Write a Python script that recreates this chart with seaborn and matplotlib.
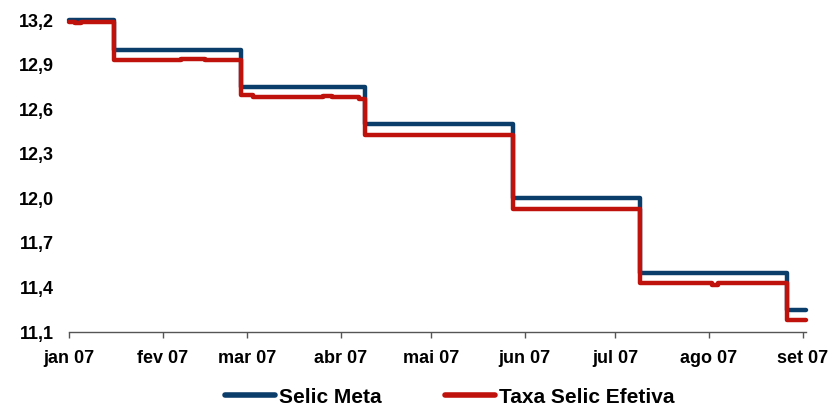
import matplotlib
matplotlib.use("Agg")
import matplotlib.pyplot as plt
from matplotlib.ticker import FuncFormatter
import pandas as pd
import seaborn as sns

# ---- data ----
meta_dates = ["2007-01-01", "2007-01-16", "2007-02-27", "2007-04-09",
              "2007-05-28", "2007-07-09", "2007-08-27", "2007-09-02"]
meta_values = [13.20, 13.00, 12.75, 12.50, 12.00, 11.50, 11.25, 11.25]

efet_dates = ["2007-01-01", "2007-01-03", "2007-01-05", "2007-01-16",
              "2007-02-07", "2007-02-15", "2007-02-27", "2007-03-03",
              "2007-03-26", "2007-03-29", "2007-04-07", "2007-04-09",
              "2007-05-28", "2007-07-09", "2007-08-02", "2007-08-04",
              "2007-08-27", "2007-09-02"]
efet_values = [13.19, 13.18, 13.19, 12.93,
               12.94, 12.93, 12.70, 12.68,
               12.69, 12.68, 12.67, 12.43,
               11.93, 11.43, 11.42, 11.43,
               11.18, 11.18]

month_ticks = ["2007-01-01", "2007-02-01", "2007-03-01", "2007-04-01", "2007-05-01",
               "2007-06-01", "2007-07-01", "2007-08-01", "2007-09-01"]
month_labels = ["jan 07", "fev 07", "mar 07", "abr 07", "mai 07",
                "jun 07", "jul 07", "ago 07", "set 07"]
y_ticks = [11.1, 11.4, 11.7, 12.0, 12.3, 12.6, 12.9, 13.2]

series_names = ["Selic Meta", "Taxa Selic Efetiva"]
colors = ["#0B3D6B", "#C0120C"]

df = pd.concat([
    pd.DataFrame({"data": pd.to_datetime(meta_dates), "valor": meta_values, "serie": series_names[0]}),
    pd.DataFrame({"data": pd.to_datetime(efet_dates), "valor": efet_values, "serie": series_names[1]}),
], ignore_index=True)

sns.set_theme(style="white")
plt.rcParams["font.family"] = ["Liberation Sans", "DejaVu Sans"]

fig = plt.figure(figsize=(8.38, 4.05), dpi=100)
ax = fig.add_axes([0.0823, 0.180, 0.879, 0.770])

sns.lineplot(data=df, x="data", y="valor", hue="serie", hue_order=series_names,
             palette=colors, drawstyle="steps-post", estimator=None,
             linewidth=3.2, ax=ax, legend=True)
for ln in ax.get_lines():
    ln.set_clip_on(False)
    ln.set_solid_joinstyle("round")

ax.set_xlim(pd.Timestamp("2007-01-01"), pd.Timestamp("2007-09-02"))
ax.set_ylim(11.1, 13.2)
ax.set_yticks(y_ticks)
ax.yaxis.set_major_formatter(FuncFormatter(lambda v, p: f"{v:.1f}".replace(".", ",")))
ax.set_xticks(pd.to_datetime(month_ticks))
ax.set_xticklabels(month_labels)

ax.set_xlabel("")
ax.set_ylabel("")
for s in ["top", "right", "left"]:
    ax.spines[s].set_visible(False)
ax.spines["bottom"].set_color("#555555")
ax.spines["bottom"].set_linewidth(1.0)

ax.tick_params(axis="x", direction="out", length=4, width=1, color="#555555", pad=9,
               labelsize=13, bottom=True)
ax.tick_params(axis="y", length=0, pad=11, labelsize=13)
for lab in ax.get_xticklabels() + ax.get_yticklabels():
    lab.set_fontweight("bold")
    lab.set_color("black")

sns.move_legend(ax, "upper center", bbox_to_anchor=(0.517, -0.118), ncol=2,
                frameon=False, title=None, handlelength=2.4, handletextpad=0.2,
                columnspacing=3.0, fontsize=15)
leg = ax.get_legend()
for t in leg.get_texts():
    t.set_fontweight("bold")
    t.set_color("black")
for h in leg.get_lines():
    h.set_linewidth(4)

fig.savefig("out.png", dpi=100)
